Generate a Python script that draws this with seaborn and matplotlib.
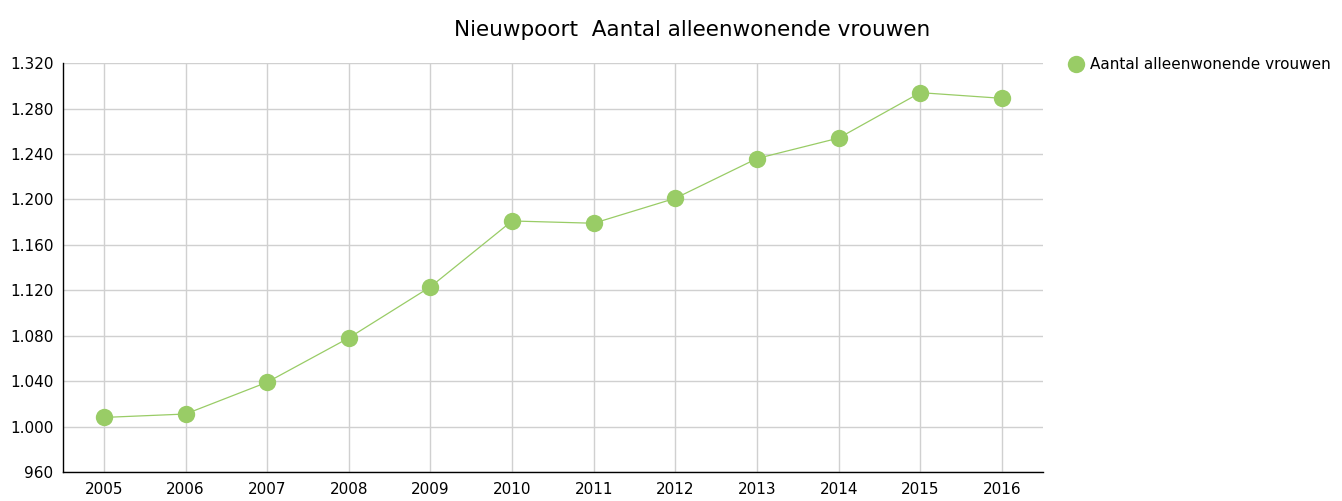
import matplotlib
matplotlib.use("Agg")
import matplotlib.pyplot as plt
import seaborn as sns
import pandas as pd
from matplotlib.ticker import FuncFormatter, MultipleLocator

years = ["2005", "2006", "2007", "2008", "2009", "2010", "2011", "2012", "2013", "2014", "2015", "2016"]
values = [1008, 1011, 1039, 1078, 1123, 1181, 1179, 1201, 1236, 1254, 1294, 1289]
series_name = "Aantal alleenwonende vrouwen"
title = "Nieuwpoort  Aantal alleenwonende vrouwen"

sns.set_style("white")
plt.rcParams['font.family'] = ['DejaVu Sans']
plt.rcParams['text.color'] = 'black'

df = pd.DataFrame({"year": years, "value": values, "series": series_name})

fig = plt.figure(figsize=(13.42, 5.01), dpi=100)
ax = fig.add_axes([0.047, 0.058, 0.730, 0.816])

color = "#99CC66"
sns.lineplot(data=df, x="year", y="value", hue="series", palette=[color], ax=ax,
             marker="o", markersize=12.5, markeredgewidth=0, linewidth=0.9, sort=False)

ax.set_xlim(-0.5, len(years) - 0.5)
ax.set_ylim(960, 1320)
ax.yaxis.set_major_locator(MultipleLocator(40))
ax.yaxis.set_major_formatter(FuncFormatter(lambda v, p: f"{int(v):,}".replace(",", ".")))
ax.grid(True, color="#d0d0d0", linewidth=1)
ax.set_axisbelow(True)
for s in ["top", "right"]:
    ax.spines[s].set_visible(False)
for s in ["left", "bottom"]:
    ax.spines[s].set_color("black")
    ax.spines[s].set_linewidth(1)
ax.tick_params(axis="both", length=0, labelsize=11, colors="black", pad=7)
ax.set_xlabel("")
ax.set_ylabel("")

fig.text(0.516, 0.94, title, ha="center", va="center", fontsize=15.5, color="black")

handles, labels = ax.get_legend_handles_labels()
leg = ax.legend(handles, labels, loc="upper left", bbox_to_anchor=(1.02, 1.03), frameon=False,
                fontsize=11, handlelength=1.0, handletextpad=0.4, borderaxespad=0)
for t in leg.get_texts():
    t.set_color("black")

fig.savefig("out.png", dpi=100)
